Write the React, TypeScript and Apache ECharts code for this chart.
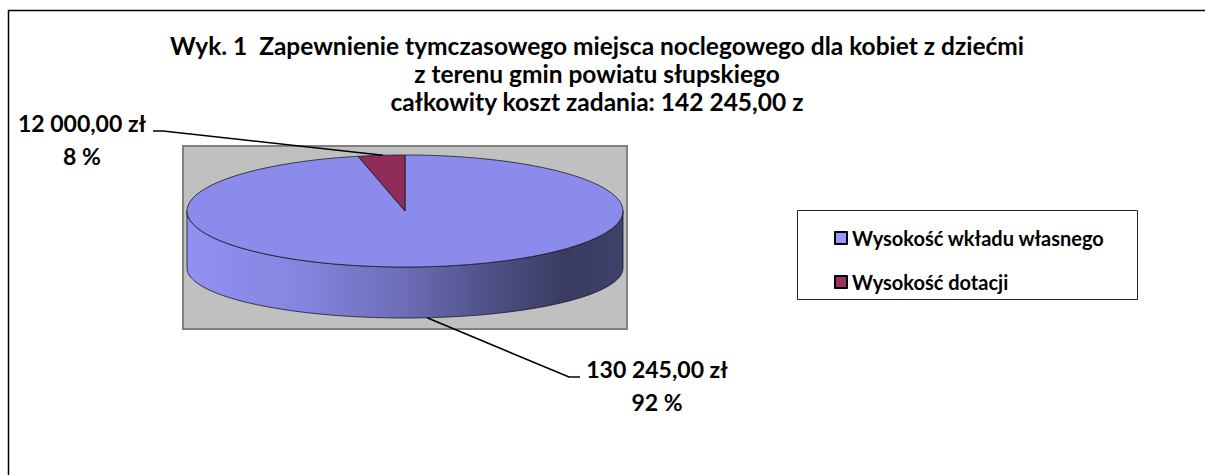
import React, { useEffect, useRef } from 'react';
import * as echarts from 'echarts';

// ---- data ----
const titleLines = [
  'Wyk. 1  Zapewnienie tymczasowego miejsca noclegowego dla kobiet z dziećmi',
  'z terenu gmin powiatu słupskiego',
  'całkowity koszt zadania: 142 245,00 z',
];
const categories = ['Wysokość wkładu własnego', 'Wysokość dotacji'];
const values = [130245, 12000];
const currency = 'zł';

// ---- style ----
const FONT = 'Lato, "Noto Sans", sans-serif';
const topColors = ['#8a8bea', '#8f2d5a'];
const legendColors = ['#9999ff', '#993366'];
const PIE = { cx: 405, cy: 211, rx: 218, ry: 56, depth: 57, ryBottom: 50, k: 0.376 };
const LABEL_LAYOUT = [
  { x: 657, y: 352, bend: [569, 377], end: [580, 377] },
  { x: 82, y: 106, bend: [163, 131], end: [153, 131] },
];

function fmtMoney(v: number): string {
  const [int, dec] = v.toFixed(2).split('.');
  return int.replace(/\B(?=(\d{3})+(?!\d))/g, ' ') + ',' + dec + ' ' + currency;
}

function warp(theta: number): number {
  return Math.atan2(PIE.k * Math.sin(theta), Math.cos(theta));
}
function pt(theta: number, bottom: boolean): number[] {
  const phi = warp(theta);
  const cy = bottom ? PIE.cy + PIE.depth : PIE.cy;
  const ry = bottom ? PIE.ryBottom : PIE.ry;
  return [PIE.cx + PIE.rx * Math.sin(phi), cy - ry * Math.cos(phi)];
}
function arc(a: number, b: number, bottom: boolean): number[][] {
  const n = Math.max(2, Math.ceil(((b - a) / (2 * Math.PI)) * 360));
  const pts: number[][] = [];
  for (let j = 0; j <= n; j++) pts.push(pt(a + ((b - a) * j) / n, bottom));
  return pts;
}

export default function App() {
  const ref = useRef<HTMLDivElement>(null);
  useEffect(() => {
    if (!ref.current) return;
    const chart = echarts.init(ref.current, null, { renderer: 'svg' });
    const total = values.reduce((s, v) => s + v, 0);
    const starts: number[] = [];
    let acc = 0;
    values.forEach((v) => {
      starts.push(acc);
      acc += v;
    });

    const rimGradient = new echarts.graphic.LinearGradient(0, 0, 1, 0, [
      { offset: 0, color: '#9091f2' },
      { offset: 0.25, color: '#8586e0' },
      { offset: 0.5, color: '#6c6db6' },
      { offset: 0.72, color: '#4c4d82' },
      { offset: 0.87, color: '#3a3b60' },
      { offset: 1, color: '#40416a' },
    ]);

    const renderItem = (params: any, api: any) => {
      const i = params.dataIndex;
      const v = api.value(0);
      const a = (starts[i] / total) * 2 * Math.PI;
      const b = a + (v / total) * 2 * Math.PI;
      const children: any[] = [];
      // visible front rim
      const fa = Math.max(a, Math.PI / 2);
      const fb = Math.min(b, (3 * Math.PI) / 2);
      if (fb > fa) {
        const pts = arc(fa, fb, false).concat(arc(fa, fb, true).reverse());
        children.push({
          type: 'polygon',
          shape: { points: pts },
          style: { fill: rimGradient, stroke: '#15152a', lineWidth: 0.8 },
        });
      }
      // top face
      const top = [[PIE.cx, PIE.cy]].concat(arc(a, b, false));
      children.push({
        type: 'polygon',
        shape: { points: top },
        style: { fill: topColors[i], stroke: '#1a1a1a', lineWidth: 0.8 },
      });
      // leader line
      const mid = (a + b) / 2;
      const anchor = pt(mid, Math.cos(mid) < 0);
      const L = LABEL_LAYOUT[i];
      children.push({
        type: 'polyline',
        shape: { points: [anchor, L.bend, L.end] },
        style: { stroke: '#000', lineWidth: 1.6, fill: null },
        z2: 10,
      });
      const pct = Math.round((v / total) * 100) + ' %';
      children.push({
        type: 'text',
        style: {
          text: fmtMoney(v) + '\n' + pct,
          x: L.x,
          y: L.y,
          align: 'center',
          verticalAlign: 'top',
          fill: '#000',
          fontFamily: FONT,
          fontWeight: 'bold',
          fontSize: 23,
          lineHeight: 33,
        },
        z2: 11,
      });
      return { type: 'group', children };
    };

    chart.setOption({
      animation: false,
      title: {
        text: titleLines.join('\n'),
        left: 592,
        top: 26,
        textAlign: 'center',
        textStyle: {
          fontFamily: FONT,
          fontWeight: 'bold',
          fontSize: 24.5,
          lineHeight: 28,
          color: '#000',
          align: 'center',
        },
      },
      legend: {
        orient: 'vertical',
        left: 829,
        top: 223,
        itemWidth: 12,
        itemHeight: 12,
        itemGap: 24,
        icon: 'rect',
        selectedMode: false,
        itemStyle: { borderColor: '#000', borderWidth: 2 },
        textStyle: { fontFamily: FONT, fontWeight: 'bold', fontSize: 20, color: '#000', lineHeight: 20 },
        data: categories,
      },
      graphic: [
        {
          type: 'rect',
          shape: { x: 8.5, y: 10.5, width: 1400, height: 700 },
          style: { fill: '#fff', stroke: '#000', lineWidth: 1.5 },
          z: -10,
        },
        {
          type: 'rect',
          shape: { x: 183, y: 146, width: 444, height: 183 },
          style: { fill: '#c0c0c0', stroke: '#808080', lineWidth: 2 },
          z: -5,
        },
        {
          type: 'rect',
          shape: { x: 797.5, y: 210.5, width: 340, height: 89 },
          style: { fill: '#fff', stroke: '#222', lineWidth: 1 },
          z: -5,
        },
      ],
      series: [
        {
          type: 'pie',
          name: 'legend',
          radius: 1,
          center: [-50, -50],
          silent: true,
          label: { show: false },
          labelLine: { show: false },
          data: categories.map((c, i) => ({ name: c, value: values[i], itemStyle: { color: legendColors[i] } })),
        },
        {
          type: 'custom',
          coordinateSystem: 'none',
          renderItem,
          data: values.map((v, i) => ({ name: categories[i], value: [v] })),
          z: 3,
        },
      ],
    });
    return () => chart.dispose();
  }, []);
  return (
    <div
      ref={ref}
      style={{ position: 'fixed', left: 0, top: 0, width: 1205, height: 475, background: '#fff' }}
    />
  );
}
